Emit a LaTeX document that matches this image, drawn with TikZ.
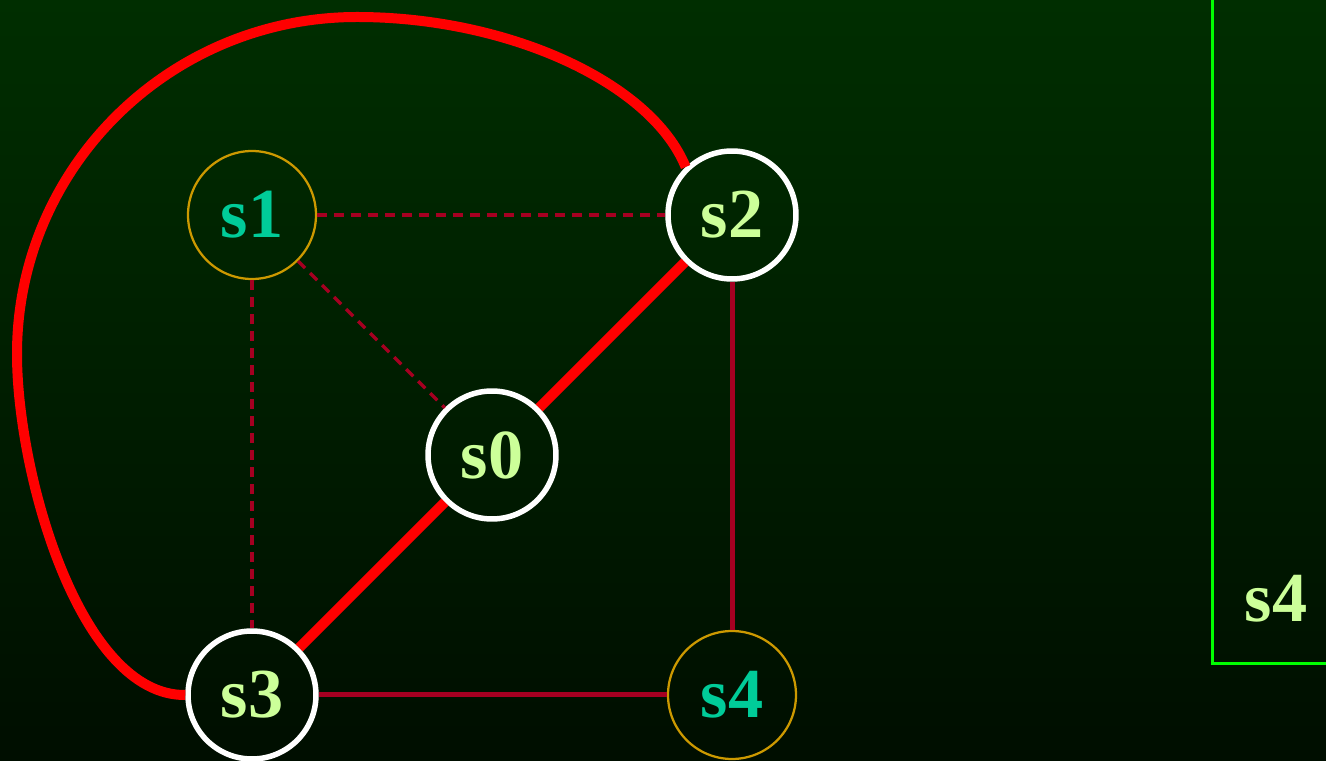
\documentclass[tikz,border=0pt]{standalone}
\usepackage{fontspec}
\setmainfont{Liberation Serif}
\usetikzlibrary{positioning}
\definecolor{bgtop}{HTML}{002E00}
\definecolor{bgbot}{HTML}{000E00}
\definecolor{hotc}{HTML}{FF0000}
\definecolor{wirec}{HTML}{A50021}
\definecolor{ringc}{HTML}{CC9900}
\definecolor{tealc}{HTML}{00CC99}
\definecolor{limec}{HTML}{CCFF99}
\definecolor{framec}{HTML}{00FF00}
\tikzset{
  st/.style={circle,minimum size=2.56cm,inner sep=0pt,font=\fontsize{40}{41}\selectfont\bfseries},
  live/.style={st,draw=white,line width=0.11cm,text=limec},
  idle/.style={st,draw=ringc,line width=0.045cm,text=tealc},
  hot/.style={hotc,line width=0.2cm},
  wire/.style={wirec,line width=0.1cm},
  dwire/.style={wirec,line width=0.065cm,dash pattern=on 0.2cm off 0.14cm}
}
\begin{document}
\begin{tikzpicture}[x=0.02cm,y=0.02cm]
\shade[top color=bgtop,bottom color=bgbot] (0,0) rectangle (1326,761);
\useasboundingbox (0,0) rectangle (1326,761);
% states
\node[live] (s0) at (492,306) {s0};
\node[idle] (s1) at (252,546) {s1};
\node[live] (s2) at (732,546) {s2};
\node[live] (s3) at (252,66) {s3};
\node[idle] (s4) at (732,66) {s4};
\coordinate (bendw) at (17,407);
\coordinate (bendn) at (357,744);
% edges
\draw[dwire] (s1) -- (s2);
\draw[dwire] (s1) -- (s3);
\draw[dwire] (s1) -- (s0);
\draw[wire] (s2) -- (s4);
\draw[wire] (s3) -- (s4);
\draw[hot] (s3) -- (s0);
\draw[hot] (s0) -- (s2);
\draw[hot] (s3.west) .. controls (80,65) and (17,287) .. (bendw)
  .. controls (17,594) and (170,744) .. (bendn)
  .. controls (507,744) and (651,679) .. (s2.134);
% side panel
\coordinate (ftop) at (1212,761);
\coordinate (fcorner) at (1212,97);
\coordinate (fend) at (1326,97);
\draw[framec,line width=0.06cm] (ftop) -- (fcorner) -- (fend);
\node[font=\fontsize{40}{41}\selectfont\bfseries,text=limec] (tag) at (1276,162) {s4};
\end{tikzpicture}
\end{document}
